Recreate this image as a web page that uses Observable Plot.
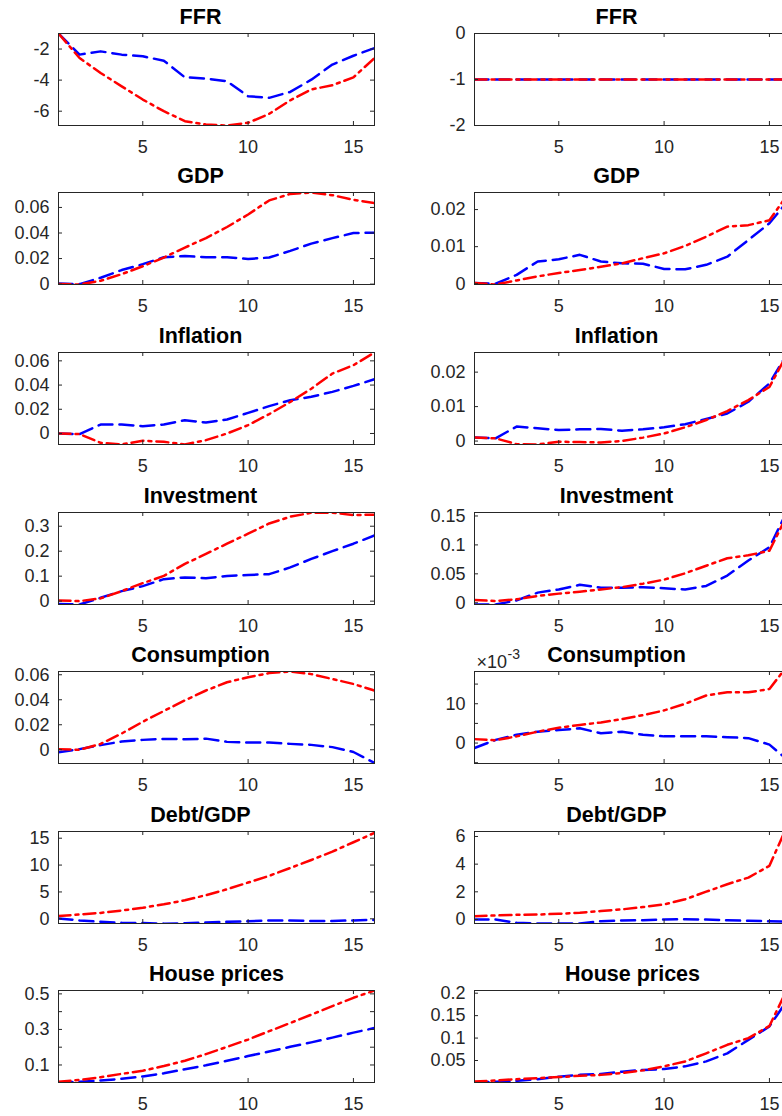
<!DOCTYPE html>
<html>
<head>
<meta charset="utf-8">
<script src="https://cdn.jsdelivr.net/npm/d3@7"></script>
<script src="https://cdn.jsdelivr.net/npm/@observablehq/plot@0.6"></script>
<style>
  html, body { margin: 0; padding: 0; background: #fff; }
  body { width: 782px; height: 1116px; overflow: hidden; position: relative;
         font-family: "Liberation Sans", Arial, Helvetica, sans-serif; }
  .panel { position: absolute; }
</style>
</head>
<body>
<div id="chart"></div>
<script>
// Horizon (quarters)
const periods = [1, 2, 3, 4, 5, 6, 7, 8, 9, 10, 11, 12, 13, 14, 15, 16];
const xTicks = [5, 10, 15];

// Left column: series A (blue dashed) and series B (red dash-dot)
const ffrA_L   = [-1.0, -2.36, -2.15, -2.36, -2.47, -2.75, -3.82, -3.9, -4.07, -5.04, -5.14, -4.76, -3.97, -3.0, -2.43, -1.94];
const ffrB_L   = [-1.0, -2.58, -3.54, -4.4, -5.25, -6.0, -6.64, -6.86, -6.92, -6.75, -6.17, -5.3, -4.6, -4.33, -3.82, -2.58];
const gdpA_L   = [0.0005, 0, 0.005, 0.011, 0.0156, 0.021, 0.022, 0.021, 0.021, 0.0197, 0.0208, 0.026, 0.0317, 0.036, 0.040, 0.0403];
const gdpB_L   = [0, -0.0003, 0.0026, 0.0078, 0.014, 0.0208, 0.0286, 0.036, 0.0447, 0.0545, 0.0655, 0.0706, 0.0717, 0.0696, 0.066, 0.0634];
const infA_L   = [0, -0.0005, 0.0074, 0.0074, 0.006, 0.0074, 0.011, 0.009, 0.0116, 0.017, 0.0226, 0.0275, 0.0303, 0.0344, 0.0393, 0.0448];
const infB_L   = [0, -0.0005, -0.0077, -0.009, -0.006, -0.0069, -0.009, -0.0055, 0, 0.0069, 0.016, 0.026, 0.037, 0.0495, 0.0564, 0.0669];
const invA_L   = [-0.011, -0.0135, 0.0135, 0.04, 0.06, 0.088, 0.095, 0.092, 0.101, 0.105, 0.108, 0.135, 0.169, 0.2, 0.23, 0.263];
const invB_L   = [0.003, 0, 0.011, 0.04, 0.072, 0.101, 0.149, 0.189, 0.23, 0.27, 0.311, 0.338, 0.354, 0.354, 0.345, 0.346];
const conA_L   = [-0.002, 0.0005, 0.0037, 0.0066, 0.0079, 0.0087, 0.0084, 0.0089, 0.0063, 0.0058, 0.0058, 0.0047, 0.0039, 0.0021, -0.0018, -0.0105];
const conB_L   = [0.0005, 0, 0.0047, 0.013, 0.0224, 0.031, 0.0395, 0.0474, 0.054, 0.058, 0.0613, 0.0626, 0.0605, 0.0566, 0.0526, 0.0474];
const debtA_L  = [0.06, -0.3, -0.56, -0.75, -0.8, -0.9, -0.85, -0.7, -0.56, -0.44, -0.3, -0.3, -0.4, -0.4, -0.3, -0.2];
const debtB_L  = [0.5, 0.8, 1.1, 1.55, 2.05, 2.7, 3.45, 4.4, 5.5, 6.75, 8.0, 9.45, 10.95, 12.5, 14.25, 16.0];
const houseA_L = [0.0014, 0.005, 0.0126, 0.022, 0.035, 0.053, 0.076, 0.098, 0.124, 0.15, 0.176, 0.202, 0.227, 0.254, 0.282, 0.308];
const houseB_L = [0.005, 0.016, 0.031, 0.05, 0.068, 0.094, 0.124, 0.161, 0.202, 0.243, 0.29, 0.336, 0.383, 0.431, 0.478, 0.519];

// Right column: rate held fixed
const ffrA_R   = [-1, -1, -1, -1, -1, -1, -1, -1, -1, -1, -1, -1, -1, -1, -1, -1];
const ffrB_R   = [-1, -1, -1, -1, -1, -1, -1, -1, -1, -1, -1, -1, -1, -1, -1, -1];
const gdpA_R   = [0.0002, 0, 0.0024, 0.006, 0.0066, 0.0078, 0.006, 0.0055, 0.0054, 0.004, 0.0039, 0.0051, 0.0073, 0.0118, 0.0163, 0.0232];
const gdpB_R   = [0.0002, -0.0002, 0.0009, 0.002, 0.0029, 0.0037, 0.0046, 0.0055, 0.0069, 0.0082, 0.0102, 0.0127, 0.0154, 0.0158, 0.0171, 0.0252];
const infA_R   = [0.001, 0.0008, 0.0042, 0.0037, 0.0032, 0.0034, 0.0035, 0.003, 0.0034, 0.004, 0.0049, 0.0064, 0.008, 0.0114, 0.0167, 0.027];
const infB_R   = [0.001, 0.0008, -0.0009, -0.001, -0.0002, -0.0003, -0.0004, 0, 0.001, 0.0022, 0.004, 0.0061, 0.0087, 0.0119, 0.0157, 0.027];
const invA_R   = [-0.003, -0.003, 0.004, 0.0175, 0.023, 0.031, 0.026, 0.026, 0.027, 0.025, 0.023, 0.029, 0.047, 0.073, 0.096, 0.17];
const invB_R   = [0.0047, 0.003, 0.006, 0.0117, 0.0158, 0.019, 0.023, 0.027, 0.033, 0.04, 0.051, 0.064, 0.077, 0.082, 0.09, 0.163];
const conA_R   = [-0.00125, 0.0008, 0.0021, 0.0029, 0.0033, 0.00375, 0.0025, 0.0029, 0.0021, 0.0017, 0.0017, 0.0017, 0.0015, 0.00125, -0.0004, -0.0049];
const conB_R   = [0.001, 0.0007, 0.0017, 0.0029, 0.0039, 0.0046, 0.00525, 0.0061, 0.0071, 0.0083, 0.010, 0.0121, 0.0129, 0.0129, 0.01375, 0.0207];
const debtA_R  = [0, 0, -0.24, -0.29, -0.29, -0.29, -0.12, -0.07, -0.05, 0, 0.02, 0, -0.05, -0.1, -0.12, -0.17];
const debtB_R  = [0.24, 0.29, 0.34, 0.36, 0.41, 0.49, 0.61, 0.73, 0.9, 1.09, 1.46, 2.01, 2.55, 3.03, 3.88, 7.3];
const houseA_R = [0.001, 0.0025, 0.0047, 0.0084, 0.014, 0.018, 0.02, 0.025, 0.029, 0.031, 0.037, 0.048, 0.066, 0.096, 0.126, 0.195];
const houseB_R = [0.003, 0.0055, 0.0084, 0.0106, 0.013, 0.016, 0.018, 0.022, 0.028, 0.037, 0.048, 0.066, 0.085, 0.1, 0.127, 0.224];

const titles = ["FFR", "GDP", "Inflation", "Investment", "Consumption", "Debt/GDP", "House prices"];

// y-axis setup for each panel: [domain, tick marks, labelled ticks]
const yLeft = [
  [[-6.92, -1], [-6, -4, -2], [-6, -4, -2]],
  [[-0.0003, 0.0717], [0, 0.02, 0.04, 0.06], [0, 0.02, 0.04, 0.06]],
  [[-0.0091, 0.0669], [0, 0.02, 0.04, 0.06], [0, 0.02, 0.04, 0.06]],
  [[-0.0135, 0.355], [0, 0.1, 0.2, 0.3], [0, 0.1, 0.2, 0.3]],
  [[-0.011, 0.0626], [0, 0.02, 0.04, 0.06], [0, 0.02, 0.04, 0.06]],
  [[-0.875, 16.25], [0, 5, 10, 15], [0, 5, 10, 15]],
  [[0.0014, 0.519], [0.1, 0.2, 0.3, 0.4, 0.5], [0.1, 0.3, 0.5]]
];
const yRight = [
  [[-2, 0], [-2, -1, 0], [-2, -1, 0]],
  [[-0.0002, 0.0246], [0, 0.01, 0.02], [0, 0.01, 0.02]],
  [[-0.001, 0.0257], [0, 0.01, 0.02], [0, 0.01, 0.02]],
  [[-0.003, 0.156], [0, 0.05, 0.1, 0.15], [0, 0.05, 0.1, 0.15]],
  [[-0.0052, 0.0182], [-0.005, 0, 0.005, 0.01, 0.015], [0, 0.01]],
  [[-0.29, 6.36], [0, 2, 4, 6], [0, 2, 4, 6]],
  [[0.001, 0.206], [0.05, 0.1, 0.15, 0.2], [0.05, 0.1, 0.15, 0.2]]
];

const seriesLeft = [
  [ffrA_L, ffrB_L], [gdpA_L, gdpB_L], [infA_L, infB_L], [invA_L, invB_L],
  [conA_L, conB_L], [debtA_L, debtB_L], [houseA_L, houseB_L]
];
const seriesRight = [
  [ffrA_R, ffrB_R], [gdpA_R, gdpB_R], [infA_R, infB_R], [invA_R, invB_R],
  [conA_R, conB_R], [debtA_R, debtB_R], [houseA_R, houseB_R]
];

const rowTops = [33, 192, 352, 512, 671, 831, 990];
const frameW = 316, frameH = 92, tickLen = 4;
const axisColor = "#262626";
const chart = document.getElementById("chart");

function panel(col, row) {
  const [a, b] = (col === 0 ? seriesLeft : seriesRight)[row];
  const [domain, tickVals, labelVals] = (col === 0 ? yLeft : yRight)[row];
  const scaled = col === 1 && row === 4; // ×10^-3 axis
  const marginLeft = col === 0 ? 58 : 83;
  const marginTop = 33, marginBottom = 35, marginRight = 20;
  const width = marginLeft + frameW + marginRight;
  const height = marginTop + frameH + marginBottom;
  const rowsA = periods.map((t, i) => ({t, v: a[i]}));
  const rowsB = periods.map((t, i) => ({t, v: b[i]}));
  const fmt = scaled ? (d) => String(Math.round(d * 1000)) : (d) => String(d);
  const titleDx = row === 6 ? 0 : -16;

  const marks = [
    Plot.line(rowsA, {x: "t", y: "v", stroke: "#0000ff", strokeWidth: 2.5,
      strokeDasharray: "14,7", clip: true}),
    Plot.line(rowsB, {x: "t", y: "v", stroke: "#ff0000", strokeWidth: 2.5,
      strokeDasharray: "12,5,3,5", clip: true}),
    Plot.frame({stroke: axisColor, strokeWidth: 1}),
    // inward tick marks on all four sides
    Plot.tickX(xTicks, {x: (d) => d, insetBottom: frameH - tickLen, stroke: axisColor}),
    Plot.tickX(xTicks, {x: (d) => d, insetTop: frameH - tickLen, stroke: axisColor}),
    Plot.tickY(tickVals, {y: (d) => d, insetRight: frameW - tickLen, stroke: axisColor}),
    Plot.tickY(tickVals, {y: (d) => d, insetLeft: frameW - tickLen, stroke: axisColor}),
    Plot.axisX(xTicks, {tickSize: 0, tickPadding: 15, fontSize: 18, fill: axisColor,
      label: null, tickFormat: (d) => String(d)}),
    Plot.axisY(labelVals, {tickSize: 0, tickPadding: 9, fontSize: 18, fill: axisColor,
      label: null, tickFormat: fmt}),
    Plot.text([titles[row]], {frameAnchor: "top", lineAnchor: "bottom", dy: -10, dx: titleDx,
      fontSize: 21.5, fontWeight: "bold", fill: "#000"})
  ];
  if (scaled) {
    marks.push(
      Plot.text(["×10"], {frameAnchor: "top-left", textAnchor: "start", lineAnchor: "bottom",
        dx: 2, dy: -4, fontSize: 18, fill: axisColor}),
      Plot.text(["-3"], {frameAnchor: "top-left", textAnchor: "start", lineAnchor: "bottom",
        dx: 33, dy: -13, fontSize: 14, fill: axisColor})
    );
  }

  const svg = Plot.plot({
    width, height, marginLeft, marginRight, marginTop, marginBottom,
    style: {fontFamily: "'Liberation Sans', Arial, Helvetica, sans-serif", background: "transparent", overflow: "visible"},
    x: {domain: [1, 16], axis: null, label: null},
    y: {domain, axis: null, label: null},
    marks
  });
  svg.classList.add("panel");
  svg.style.left = (col === 0 ? 0 : 391) + "px";
  svg.style.top = (rowTops[row] - marginTop) + "px";
  chart.appendChild(svg);
}

for (let row = 0; row < 7; row++) {
  panel(0, row);
  panel(1, row);
}
</script>
</body>
</html>
